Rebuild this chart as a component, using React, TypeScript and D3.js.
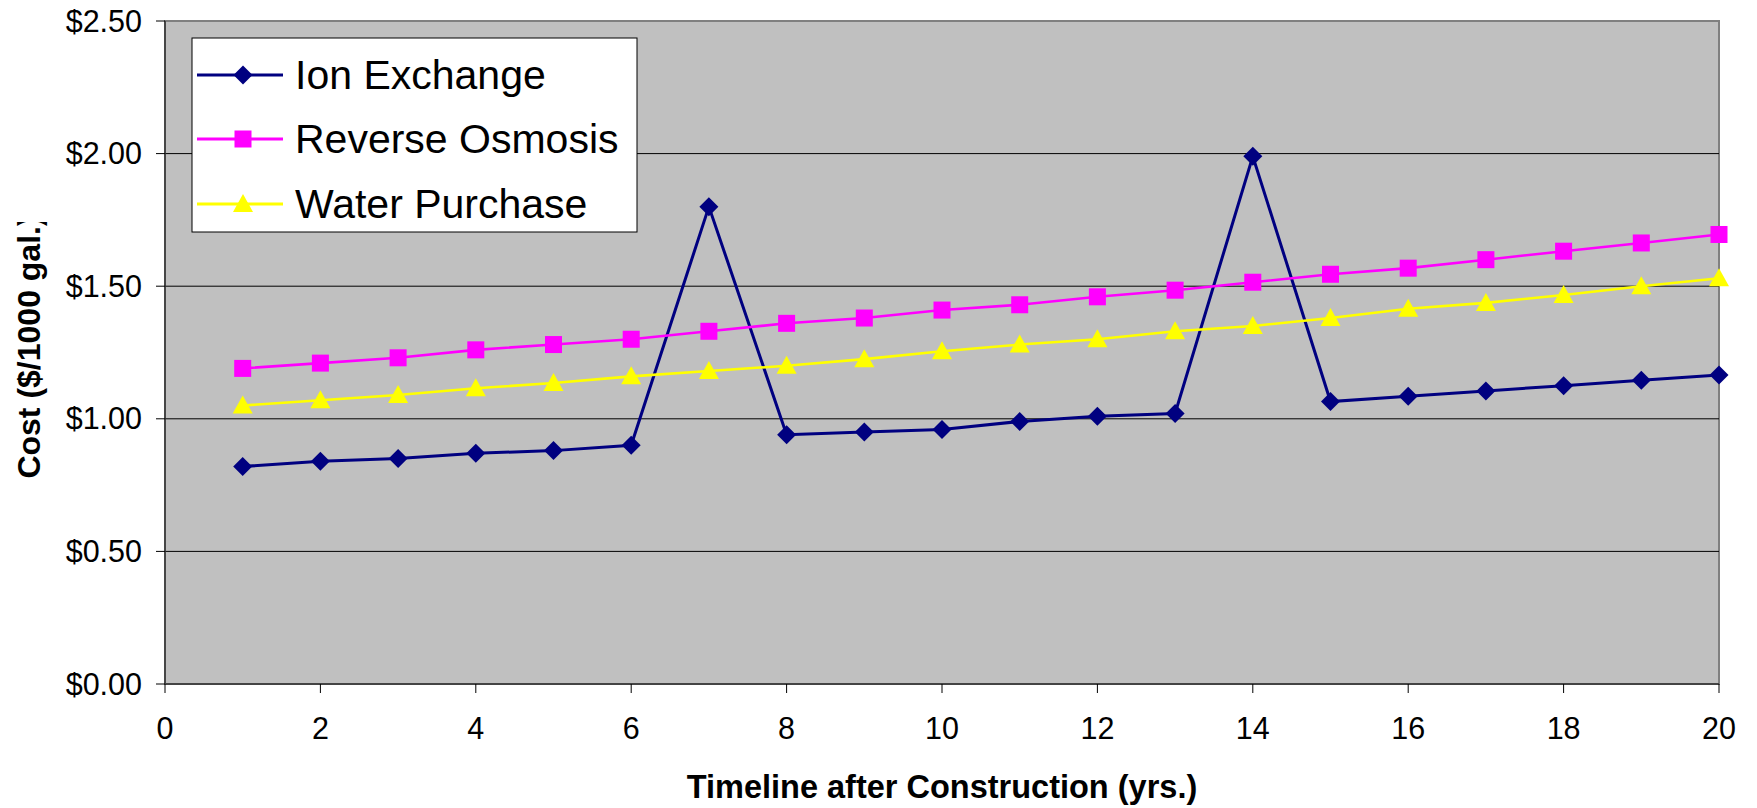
import * as d3 from "d3";

const years = d3.range(1, 21);
const ionExchange = [0.82, 0.84, 0.85, 0.87, 0.88, 0.9, 1.8, 0.94, 0.95, 0.96, 0.99, 1.01, 1.02, 1.99, 1.065, 1.085, 1.105, 1.125, 1.145, 1.165];
const reverseOsmosis = [1.19, 1.21, 1.23, 1.26, 1.28, 1.3, 1.33, 1.36, 1.38, 1.41, 1.43, 1.46, 1.485, 1.515, 1.545, 1.568, 1.6, 1.632, 1.663, 1.695];
const waterPurchase = [1.05, 1.07, 1.09, 1.115, 1.135, 1.16, 1.18, 1.2, 1.225, 1.255, 1.28, 1.3, 1.33, 1.35, 1.38, 1.415, 1.437, 1.467, 1.5, 1.53];
const xTicks = d3.range(0, 21, 2);
const yTicks = [0, 0.5, 1, 1.5, 2, 2.5];

const series = [
  { name: "Ion Exchange", values: ionExchange, color: "#000080", marker: "diamond" },
  { name: "Reverse Osmosis", values: reverseOsmosis, color: "#FF00FF", marker: "square" },
  { name: "Water Purchase", values: waterPurchase, color: "#FFFF00", marker: "triangle" },
];

const W = 1757;
const H = 808;
const plot = { left: 165, right: 1719, top: 21, bottom: 684 };
const font = "'Liberation Sans', Arial, sans-serif";

function Marker({ type, x, y, color }: { type: string; x: number; y: number; color: string }) {
  if (type === "diamond") {
    const r = 9.5;
    return <path d={`M${x},${y - r}L${x + r},${y}L${x},${y + r}L${x - r},${y}Z`} fill={color} />;
  }
  if (type === "square") {
    return <rect x={x - 8.5} y={y - 8.5} width={17} height={17} fill={color} />;
  }
  return <path d={`M${x},${y - 10}L${x + 10},${y + 8}L${x - 10},${y + 8}Z`} fill={color} />;
}

export default function App() {
  const x = d3.scaleLinear().domain([0, 20]).range([plot.left, plot.right]);
  const y = d3.scaleLinear().domain([0, 2.5]).range([plot.bottom, plot.top]);
  const line = d3
    .line<number>()
    .x((_, i) => x(years[i]))
    .y((d) => y(d));

  // legend layout
  const lg = { x: 192, y: 38, w: 445, h: 194 };
  const rowY = [75, 139, 204];

  return (
    <svg
      width={W}
      height={H}
      style={{ position: "absolute", top: 0, left: 0, background: "#fff" }}
      fontFamily={font}
    >
      <defs>
        <clipPath id="ytitle-clip">
          <rect x={0} y={222} width={80} height={500} />
        </clipPath>
      </defs>

      <rect
        x={plot.left}
        y={plot.top}
        width={plot.right - plot.left}
        height={plot.bottom - plot.top}
        fill="#C0C0C0"
        stroke="#808080"
        strokeWidth={2}
      />

      {yTicks.slice(1, -1).map((t) => (
        <line key={t} x1={plot.left} x2={plot.right} y1={y(t)} y2={y(t)} stroke="#000" strokeWidth={1} />
      ))}

      {/* axes */}
      <line x1={plot.left} x2={plot.left} y1={plot.top} y2={plot.bottom} stroke="#333" strokeWidth={1.5} />
      <line x1={plot.left} x2={plot.right} y1={plot.bottom} y2={plot.bottom} stroke="#444" strokeWidth={2} />

      {yTicks.map((t) => (
        <g key={t}>
          <line x1={plot.left - 9} x2={plot.left} y1={y(t)} y2={y(t)} stroke="#000" strokeWidth={1} />
          <text x={142} y={y(t) + 10.5} textAnchor="end" fontSize={30.5}>
            {d3.format("$.2f")(t)}
          </text>
        </g>
      ))}

      {xTicks.map((t) => (
        <g key={t}>
          <line x1={x(t)} x2={x(t)} y1={plot.bottom} y2={plot.bottom + 9} stroke="#000" strokeWidth={1} />
          <text x={x(t)} y={739} textAnchor="middle" fontSize={30.5}>
            {t}
          </text>
        </g>
      ))}

      {series.map((s) => (
        <g key={s.name}>
          <path d={line(s.values) ?? ""} fill="none" stroke={s.color} strokeWidth={s.marker === "diamond" ? 3 : 2.6} />
          {s.values.map((v, i) => (
            <Marker key={i} type={s.marker} x={x(years[i])} y={y(v)} color={s.color} />
          ))}
        </g>
      ))}

      <rect x={lg.x} y={lg.y} width={lg.w} height={lg.h} fill="#fff" stroke="#000" strokeWidth={1} />
      {series.map((s, i) => (
        <g key={s.name}>
          <line x1={197} x2={283} y1={rowY[i]} y2={rowY[i]} stroke={s.color} strokeWidth={3} />
          <Marker type={s.marker} x={243} y={rowY[i]} color={s.color} />
          <text x={295} y={rowY[i] + 14} fontSize={41}>
            {s.name}
          </text>
        </g>
      ))}

      <text x={(plot.left + plot.right) / 2} y={798} textAnchor="middle" fontSize={32.5} fontWeight="bold">
        Timeline after Construction (yrs.)
      </text>

      <g clipPath="url(#ytitle-clip)">
        <text
          transform={`translate(40, 347) rotate(-90)`}
          textAnchor="middle"
          fontSize={32}
          fontWeight="bold"
        >
          Cost ($/1000 gal.)
        </text>
      </g>
    </svg>
  );
}
